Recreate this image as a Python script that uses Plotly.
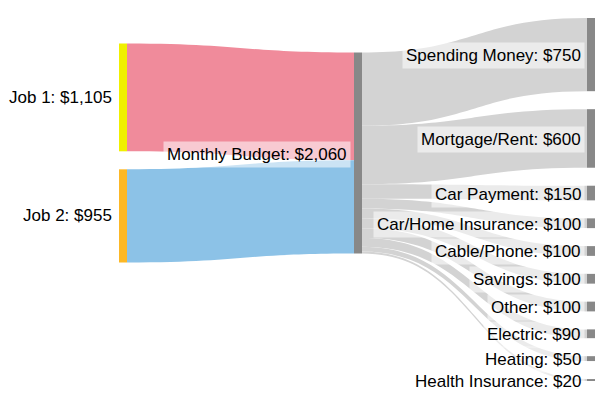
import plotly.graph_objects as go

# ---- data ----
node_names = ["Job 1", "Job 2", "Monthly Budget", "Spending Money", "Mortgage/Rent",
              "Car Payment", "Car/Home Insurance", "Cable/Phone", "Savings", "Other",
              "Electric", "Heating", "Health Insurance"]
income_values = [1105, 955]
expense_names = node_names[3:]
expense_values = [750, 600, 150, 100, 100, 100, 100, 90, 50, 20]

# ---- styles ----
node_colors = ["#F0F000", "#FCB826"] + ["#888888"] * 11
link_colors = ["#F08B9B", "#8CC2E7"] + ["#D3D3D3"] * 10
FONT = "Liberation Sans, Arial, sans-serif"

W, H = 600, 400
dom_left, dom_right = 119, 595      # px
dom_top, dom_bot = 18, 381          # px
thick = 8
pad = 18
dh = dom_bot - dom_top
dw = dom_right - dom_left

total = sum(expense_values)
ky = (dh - pad * (len(expense_values) - 1)) / total

# node pixel geometry (centers)
mid_center = 153.0
centers = {}
left_span = sum(income_values) * ky + pad
y = mid_center - left_span / 2
for i, v in enumerate(income_values):
    h = v * ky
    centers[i] = y + h / 2
    y += h + pad
centers[2] = mid_center
y = dom_top
for j, v in enumerate(expense_values):
    h = v * ky
    centers[3 + j] = y + h / 2
    y += h + pad

xcent = {0: dom_left + thick / 2, 1: dom_left + thick / 2, 2: 358}
for j in range(len(expense_values)):
    xcent[3 + j] = dom_right - thick / 2

node_x = [(xcent[i] - dom_left) / dw for i in range(len(node_names))]
node_y = [(centers[i] - dom_top) / dh for i in range(len(node_names))]

sources = [0, 1] + [2] * len(expense_values)
targets = [2, 2] + list(range(3, 3 + len(expense_values)))
values = income_values + expense_values

fig = go.Figure(go.Sankey(
    arrangement="fixed",
    domain=dict(x=[dom_left / W, dom_right / W], y=[1 - dom_bot / H, 1 - dom_top / H]),
    node=dict(label=[""] * len(node_names), color=node_colors, thickness=thick, pad=pad,
              line=dict(width=0), x=node_x, y=node_y, hoverinfo="none"),
    link=dict(source=sources, target=targets, value=values, color=link_colors,
              hoverinfo="none"),
))

node_values = income_values + [total] + expense_values
annotations = []
for i, name in enumerate(node_names):
    label = f"{name}: ${node_values[i]:,}"
    if i < 2:
        xr = dom_left - 3
        yc = centers[i]
    elif i == 2:
        xr = 351
        yc = centers[i] + 2
    else:
        xr = dom_right - thick - 2
        yc = centers[i] + 1
    annotations.append(dict(
        x=xr / W, y=1 - yc / H, xref="paper", yref="paper",
        xanchor="right", yanchor="middle", text=label, showarrow=False,
        font=dict(family=FONT, size=17, color="#000000"),
        bgcolor="rgba(255,255,255,0.55)", borderpad=3,
    ))

fig.update_layout(
    width=W, height=H, margin=dict(l=0, r=0, t=0, b=0),
    paper_bgcolor="white", plot_bgcolor="white",
    annotations=annotations, showlegend=False,
)
fig.write_html("out.html")
